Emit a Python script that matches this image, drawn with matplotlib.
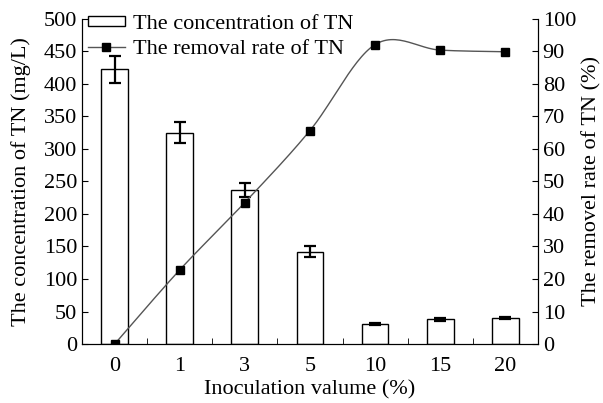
import numpy as np
import matplotlib.pyplot as plt

plt.rcParams['font.family'] = ['Liberation Serif', 'DejaVu Serif']
plt.rcParams['mathtext.fontset'] = 'stix'

# inoculation volume groups (%)
groups = ['0', '1', '3', '5', '10', '15', '20']
# TN concentration (mg/L) and its standard deviation
tn_conc = [422, 325, 237, 142, 31, 38, 40]
tn_err = [21, 16, 11, 8, 2, 2, 2]
# TN removal rate (%)
removal = [0.0, 22.8, 43.5, 65.6, 92.0, 90.3, 89.8]


def smooth_curve(x, y, steps=30):
    """Catmull-Rom style smoothing through the data points."""
    x = np.asarray(x, float)
    y = np.asarray(y, float)
    px = np.concatenate([[x[0]], x, [x[-1]]])
    py = np.concatenate([[y[0]], y, [y[-1]]])
    xs, ys = [], []
    for i in range(1, len(px) - 2):
        p0, p1, p2, p3 = (np.array([px[j], py[j]]) for j in range(i - 1, i + 3))
        c1 = p1 + (p2 - p0) / 6
        c2 = p2 - (p3 - p1) / 6
        t = np.linspace(0, 1, steps)[:, None]
        b = ((1 - t) ** 3) * p1 + 3 * ((1 - t) ** 2) * t * c1 + 3 * (1 - t) * t ** 2 * c2 + t ** 3 * p2
        xs.append(b[:, 0])
        ys.append(b[:, 1])
    return np.concatenate(xs), np.concatenate(ys)


FS = 16

fig = plt.figure(figsize=(6.03, 4.03), dpi=100)
ax = fig.add_axes([0.136, 0.146, 0.756, 0.808])
x = np.arange(len(groups))

bars = ax.bar(x, tn_conc, width=0.41, color='white', edgecolor='black', linewidth=1.0,
              label='The concentration of TN', zorder=2)
ax.errorbar(x, tn_conc, yerr=tn_err, fmt='none', ecolor='black', elinewidth=1.6,
            capsize=4, capthick=1.6, zorder=3)

ax.set_xlim(-0.5, len(groups) - 0.5)
ax.set_ylim(0, 500)
ax.set_yticks(np.arange(0, 501, 50))
ax.set_xticks(x)
ax.set_xticklabels(groups)
ax.set_xticks(np.arange(0.5, len(groups) - 0.5), minor=True)
ax.tick_params(axis='x', which='major', length=0, pad=9, labelsize=FS)
ax.tick_params(axis='x', which='minor', direction='in', length=4)
ax.tick_params(axis='y', direction='in', length=4, labelsize=FS)
ax.spines['top'].set_visible(False)
ax.set_xlabel('Inoculation valume (%)', fontsize=FS, labelpad=3)
ax.set_ylabel('The concentration of TN (mg/L)', fontsize=FS, labelpad=9)

ax2 = ax.twinx()
ax2.set_ylim(0, 100)
ax2.set_yticks(np.arange(0, 101, 10))
ax2.tick_params(axis='y', direction='in', length=4, labelsize=FS)
ax2.spines['top'].set_visible(False)
sx, sy = smooth_curve(x, removal)
ax2.plot(sx, sy, color='#555555', linewidth=1.0, zorder=3)
ax2.plot(x, removal, linestyle='none', marker='s', markersize=6, color='black', zorder=4)
ax2.set_ylabel('The removel rate of TN (%)', fontsize=FS, labelpad=4)

line_handle = plt.Line2D([], [], color='#555555', linewidth=1.0, marker='s',
                         markersize=6, markerfacecolor='black', markeredgecolor='black')
ax2.legend([bars, line_handle], ['The concentration of TN', 'The removal rate of TN'],
           loc='upper left', bbox_to_anchor=(0.013, 1.012), frameon=False, fontsize=FS,
           handlelength=1.65, handleheight=0.32, handletextpad=0.4, labelspacing=0.28,
           borderpad=0, borderaxespad=0)

fig.savefig('out.png', dpi=100)
